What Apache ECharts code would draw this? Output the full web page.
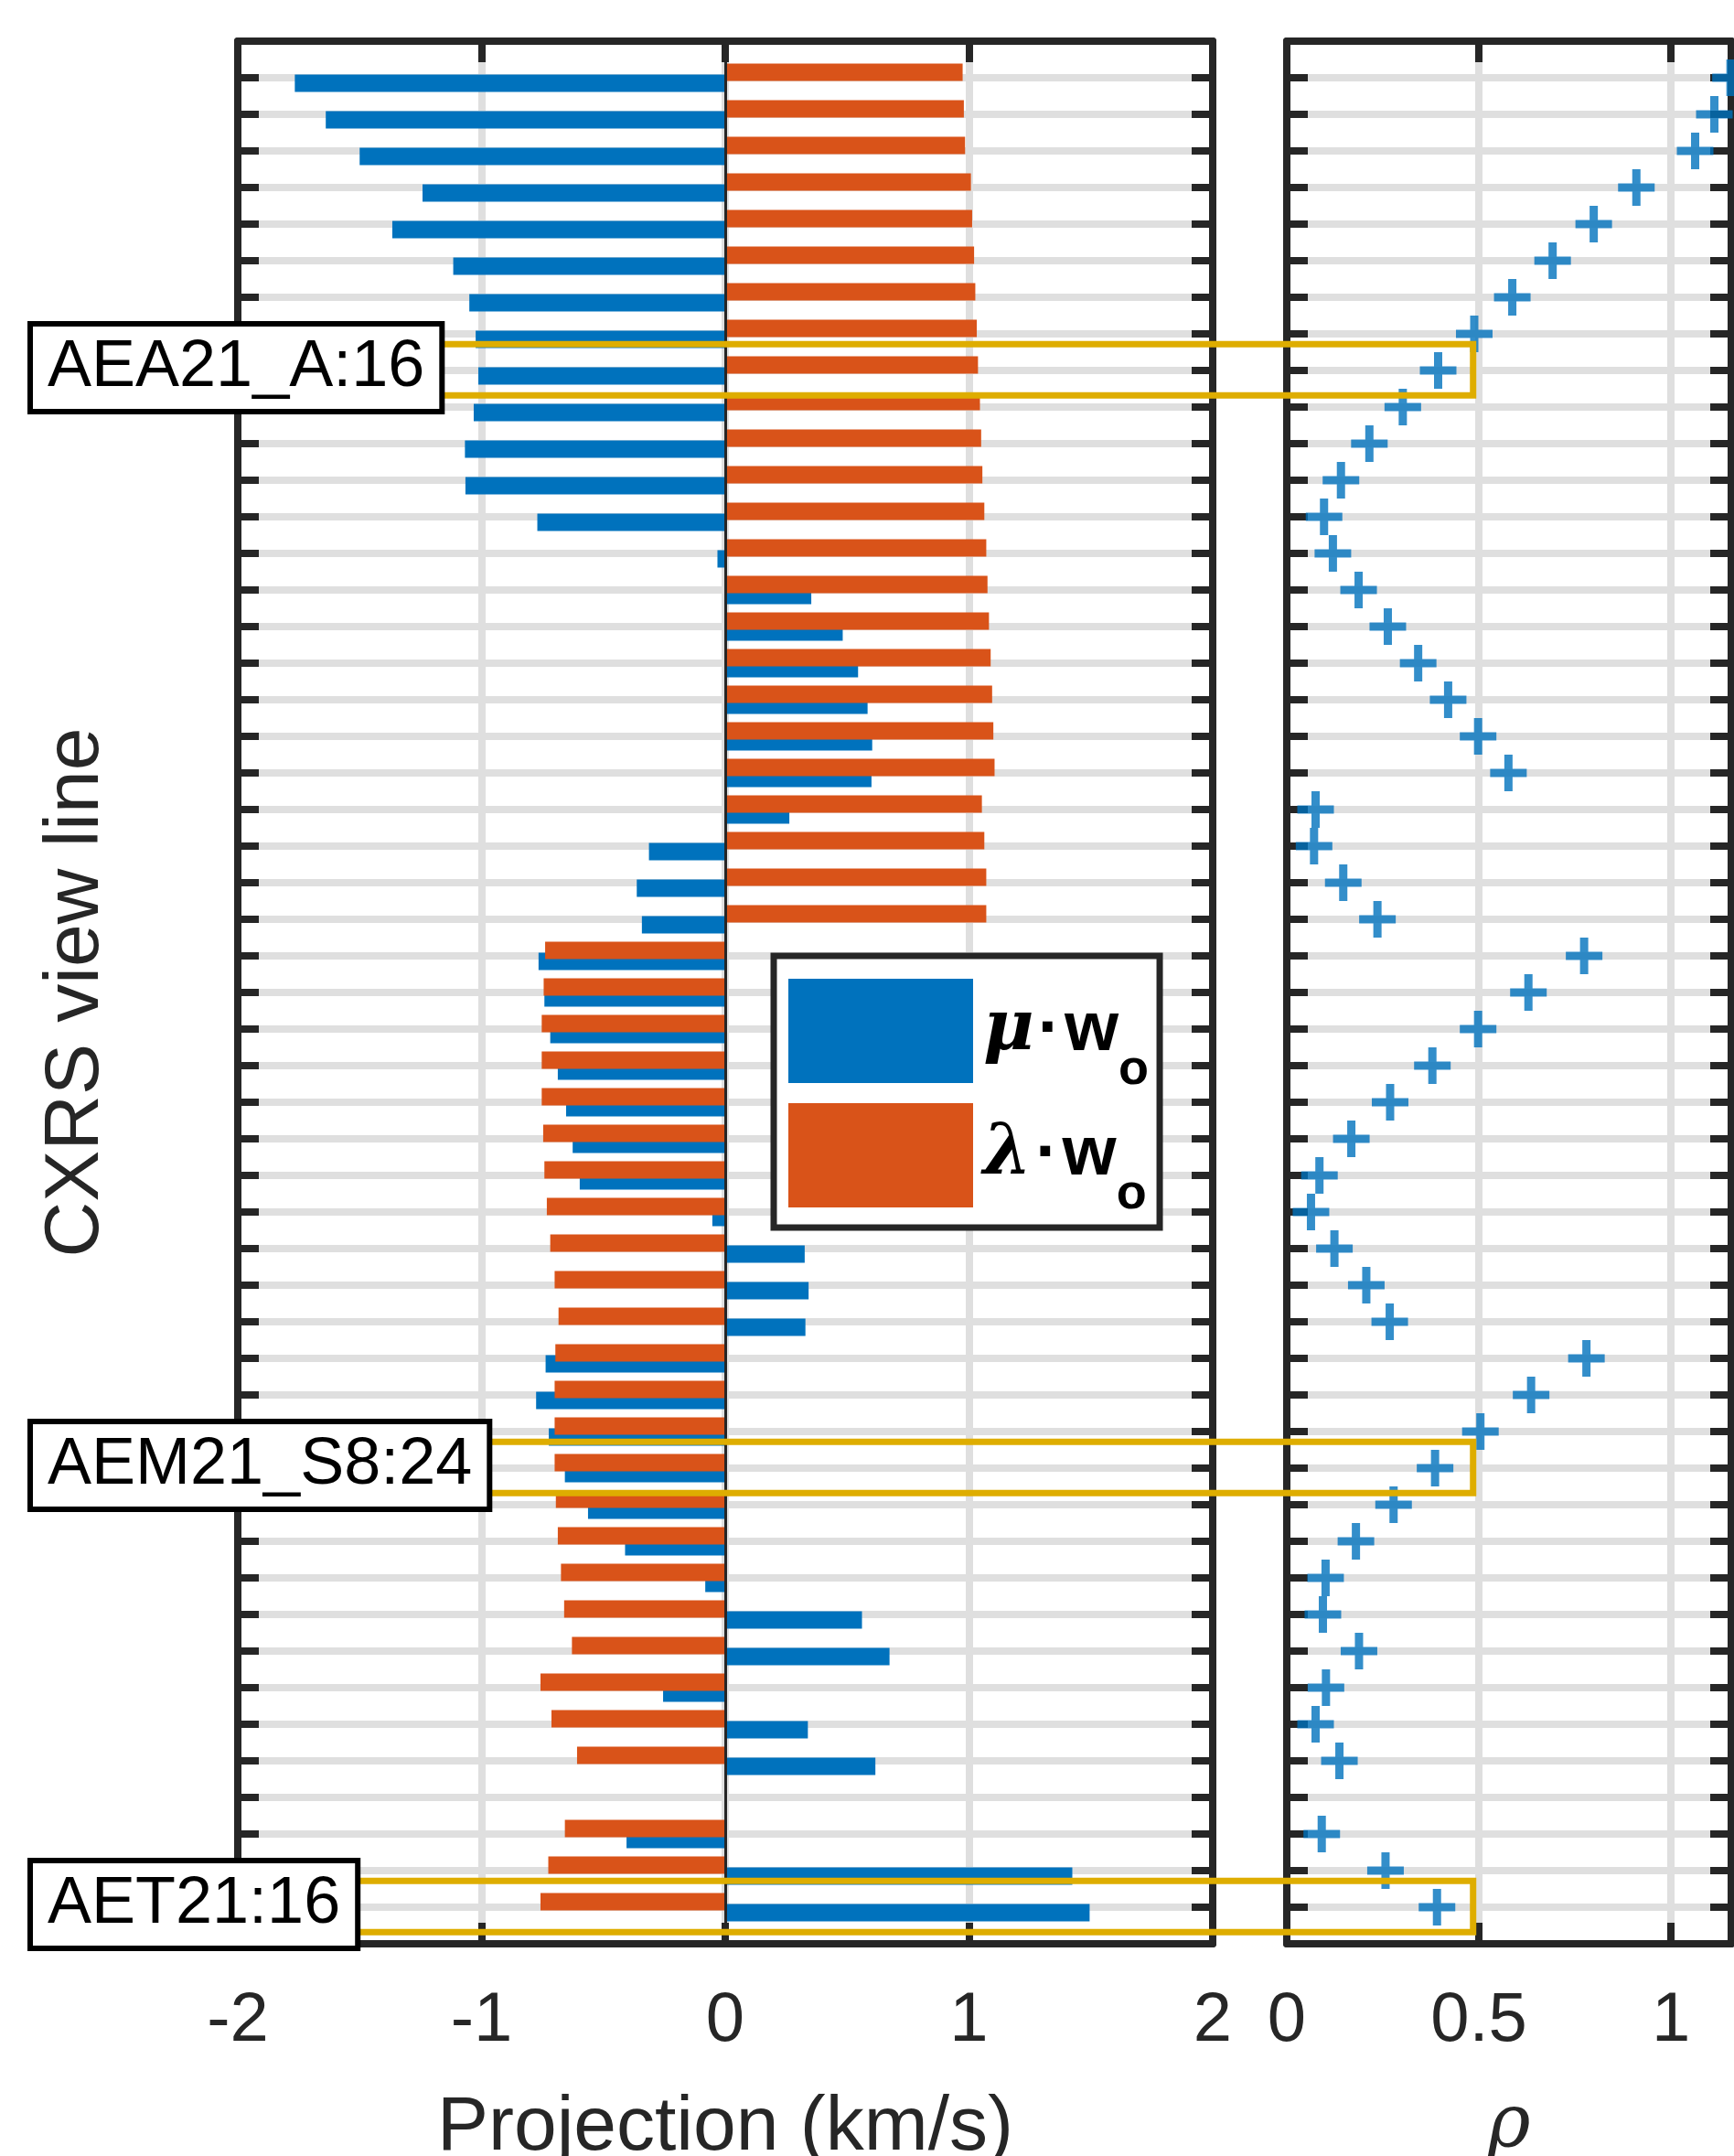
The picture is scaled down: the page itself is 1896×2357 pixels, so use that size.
<!DOCTYPE html>
<html>
<head>
<meta charset="utf-8">
<script src="https://cdn.jsdelivr.net/npm/echarts@6/dist/echarts.min.js"></script>
<style>
  html, body { margin: 0; padding: 0; background: #fff; }
  #chart { width: 1896px; height: 2357px; }
</style>
</head>
<body>
<div id="chart"></div>
<script>
// CXRS view lines, top to bottom (line 48 has no data)
const viewLines = ['1', '2', '3', '4', '5', '6', '7', '8', '9', '10', '11', '12', '13', '14', '15', '16', '17',
  '18', '19', '20', '21', '22', '23', '24', '25', '26', '27', '28', '29', '30', '31', '32', '33', '34',
  '35', '36', '37', '38', '39', '40', '41', '42', '43', '44', '45', '46', '47', '48', '49', '50', '51']

// mu . w_o  (km/s)
const muProj = [-1.766, -1.639, -1.500, -1.242, -1.366, -1.116, -1.050, -1.024, -1.013, -1.032,
  -1.068, -1.066, -0.771, -0.032, 0.353, 0.482, 0.545, 0.584, 0.603, 0.600,
  0.263, -0.313, -0.363, -0.342, -0.766, -0.742, -0.718, -0.687, -0.653, -0.626,
  -0.597, -0.053, 0.326, 0.342, 0.329, -0.737, -0.776, -0.724, -0.658, -0.563,
  -0.411, -0.082, 0.561, 0.674, -0.255, 0.339, 0.616, null, -0.405, 1.424, 1.495]

// lambda . w_o  (km/s)
const lambdaProj = [0.974, 0.979, 0.984, 1.008, 1.013, 1.021, 1.026, 1.032, 1.037, 1.045,
  1.050, 1.055, 1.063, 1.071, 1.076, 1.082, 1.089, 1.095, 1.100, 1.105,
  1.053, 1.063, 1.071, 1.071, -0.739, -0.745, -0.753, -0.753, -0.753, -0.747,
  -0.742, -0.732, -0.718, -0.700, -0.684, -0.697, -0.700, -0.700, -0.700, -0.695,
  -0.687, -0.674, -0.661, -0.629, -0.758, -0.713, -0.608, null, -0.658, -0.726, -0.758]

// rho of each view line
const rho = [1.155, 1.113, 1.063, 0.910, 0.799, 0.692, 0.587, 0.488, 0.394, 0.302,
  0.215, 0.141, 0.097, 0.120, 0.187, 0.263, 0.342, 0.420, 0.498, 0.577,
  0.075, 0.071, 0.147, 0.236, 0.774, 0.629, 0.498, 0.379, 0.269, 0.168,
  0.085, 0.063, 0.124, 0.207, 0.268, 0.780, 0.636, 0.504, 0.386, 0.278,
  0.180, 0.101, 0.094, 0.188, 0.102, 0.075, 0.137, null, 0.091, 0.257, 0.391]

const projTicks = [-2, -1, 0, 1, 2]
const rhoTicks = [0, 0.5, 1]
const rhoMax = 1.157

// highlighted view lines
const highlights = [
  { name: 'AEA21_A:16', line: '9' },
  { name: 'AEM21_S8:24', line: '39' },
  { name: 'AET21:16', line: '51' }
]

const ink = '#262626'
const gridGray = '#DFDFDF'
const blue = '#0072BD'
const orange = '#D95319'
const yellow = '#DEAD00'
const font = 'Liberation Sans'
const plus = 'path://M0,15.5H40V24.5H0Z M15.5,0H24.5V40H15.5Z'

// one empty slot above and below so the lines sit on the ticks
const rowCats = [''].concat(viewLines, [''])
const pad = arr => [null].concat(arr, [null])

function rowAxis(gridIndex, position, withName) {
  const ax = {
    type: 'category',
    gridIndex: gridIndex,
    position: position,
    inverse: true,
    boundaryGap: false,
    data: rowCats,
    axisLine: { show: true, onZero: false, lineStyle: { color: ink, width: 8 } },
    axisTick: { show: true, inside: true, interval: 0, length: 23, lineStyle: { color: ink, width: 8 } },
    axisLabel: { show: false },
    splitLine: { show: position === 'left', interval: 0, lineStyle: { color: gridGray, width: 8 } }
  }
  if (withName) {
    ax.name = 'CXRS view line'
    ax.nameLocation = 'middle'
    ax.nameGap = 134
    ax.nameTextStyle = { fontFamily: font, fontSize: 84, color: ink }
  }
  return ax
}

function valueAxis(gridIndex, position, min, max, interval, opts) {
  const bottom = position === 'bottom'
  return Object.assign({
    type: 'value',
    gridIndex: gridIndex,
    position: position,
    min: min,
    max: max,
    interval: interval,
    axisLine: { show: true, onZero: false, lineStyle: { color: ink, width: 8 } },
    axisTick: { show: true, inside: true, length: 23, lineStyle: { color: ink, width: 8 } },
    axisLabel: { show: bottom, fontFamily: font, fontSize: 76, color: ink, margin: 47 },
    splitLine: { show: bottom, lineStyle: { color: gridGray, width: 8 } }
  }, opts || {})
}

const chart = echarts.init(document.getElementById('chart'))

chart.setOption({
  backgroundColor: '#fff',
  animation: false,
  grid: [
    { left: 260, top: 45, width: 1066, height: 2080, outerBoundsMode: 'none' },
    { left: 1407, top: 45, width: 486, height: 2080, outerBoundsMode: 'none' }
  ],
  xAxis: [
    valueAxis(0, 'bottom', projTicks[0], projTicks[projTicks.length - 1], 1, {
      name: 'Projection (km/s)',
      nameLocation: 'middle',
      nameGap: 160,
      nameTextStyle: { fontFamily: font, fontSize: 84, color: ink }
    }),
    valueAxis(0, 'top', projTicks[0], projTicks[projTicks.length - 1], 1),
    valueAxis(1, 'bottom', rhoTicks[0], rhoMax, 0.5, {
      name: 'ρ',
      nameLocation: 'middle',
      nameGap: 160,
      nameTextStyle: { fontFamily: 'DejaVu Serif', fontStyle: 'italic', fontSize: 80, color: ink }
    }),
    valueAxis(1, 'top', rhoTicks[0], rhoMax, 0.5)
  ],
  yAxis: [
    rowAxis(0, 'left', true),
    rowAxis(0, 'right', false),
    rowAxis(1, 'left', false),
    rowAxis(1, 'right', false)
  ],
  legend: {
    data: ['mu', 'lambda'],
    orient: 'vertical',
    left: 846,
    top: 1045,
    icon: 'rect',
    itemWidth: 202,
    itemHeight: 114,
    itemGap: 9,
    padding: [25, 12, 9, 16],
    backgroundColor: '#fff',
    borderColor: ink,
    borderWidth: 7,
    selectedMode: false,
    formatter: name => (name === 'mu' ? '{g|μ}{d|·}{w|w}{s|o}' : '{g|λ}{d|·}{w|w}{s|o}'),
    textStyle: {
      padding: [0, 0, 0, 6],
      rich: {
        g: { fontFamily: 'DejaVu Serif', fontStyle: 'italic', fontWeight: 'bold', fontSize: 76, color: '#000', lineHeight: 140 },
        d: { fontFamily: font, fontWeight: 'bold', fontSize: 76, color: '#000', lineHeight: 140, padding: [0, 4, 0, 4] },
        w: { fontFamily: font, fontWeight: 'bold', fontSize: 76, color: '#000', lineHeight: 140 },
        s: { fontFamily: font, fontWeight: 'bold', fontSize: 54, color: '#000', lineHeight: 54, verticalAlign: 'bottom' }
      }
    }
  },
  series: [
    {
      name: 'lambda',
      type: 'bar',
      xAxisIndex: 0,
      yAxisIndex: 0,
      data: pad(lambdaProj),
      barWidth: 19,
      barGap: '-37%',
      itemStyle: { color: orange },
      z: 3
    },
    {
      name: 'mu',
      type: 'bar',
      xAxisIndex: 0,
      yAxisIndex: 0,
      data: pad(muProj),
      barWidth: 19,
      barGap: '-37%',
      itemStyle: { color: blue },
      z: 2,
      markLine: {
        silent: true,
        symbol: 'none',
        label: { show: false },
        lineStyle: { color: ink, width: 3, type: 'solid' },
        data: [{ xAxis: 0 }]
      }
    },
    {
      name: 'rho',
      type: 'scatter',
      xAxisIndex: 2,
      yAxisIndex: 2,
      symbol: plus,
      symbolSize: 40,
      itemStyle: { color: blue },
      data: rho.map((v, i) => [v, i + 1]).filter(d => d[0] !== null),
      z: 3
    }
  ]
})

// highlight boxes, placed through the axes
const graphics = []
highlights.forEach(h => {
  const idx = rowCats.indexOf(h.line)
  const yRow = chart.convertToPixel({ gridIndex: 0 }, [0, idx])[1]
  const step = chart.convertToPixel({ gridIndex: 0 }, [0, idx - 1])[1] - yRow
  const xRight = chart.convertToPixel({ gridIndex: 1 }, [0.485, idx])[0]
  const top = yRow + 0.72 * step
  const bottom = yRow - 0.68 * step
  graphics.push({
    type: 'rect',
    z: 50,
    shape: { x: 150, y: top, width: xRight - 150, height: bottom - top },
    style: { fill: null, stroke: yellow, lineWidth: 7 }
  })
  graphics.push({
    type: 'text',
    z: 60,
    style: {
      text: h.name,
      x: 36,
      y: yRow - 3,
      verticalAlign: 'middle',
      fontFamily: font,
      fontSize: 72,
      fill: '#000',
      backgroundColor: '#fff',
      borderColor: '#000',
      borderWidth: 6,
      padding: [10, 16, 8, 16]
    }
  })
})
chart.setOption({ graphic: graphics })
</script>
</body>
</html>
